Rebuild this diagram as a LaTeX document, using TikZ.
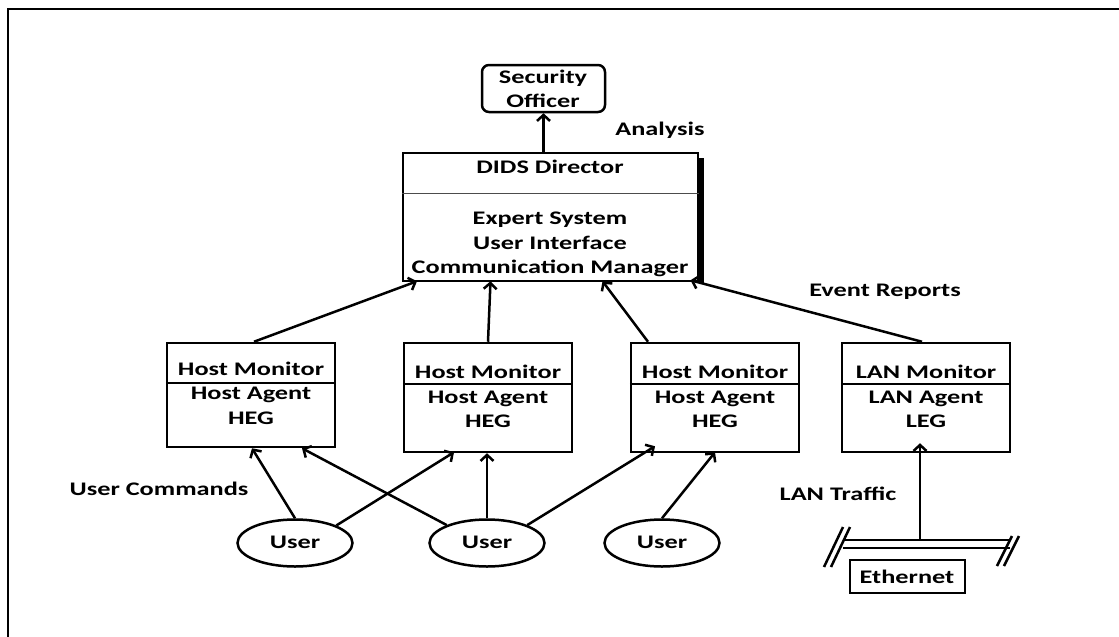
\documentclass[tikz,border=0pt]{standalone}
\usepackage{fontspec}
\setmainfont{Carlito}[FakeStretch=1.37]
\usetikzlibrary{arrows.meta,shapes.geometric}
\begin{document}
\begin{tikzpicture}[x=1pt,y=-1pt,
  every node/.style={font=\fontsize{19.2}{24.5}\selectfont\bfseries, inner sep=0pt},
  boxshape/.style={draw, line width=2.5pt, minimum width=168pt, minimum height=104pt},
  usershape/.style={draw, ellipse, line width=2.5pt, minimum width=115pt, minimum height=47pt},
  txt/.style={anchor=base},
  conn/.style={line width=2.5pt, -{Straight Barb[length=6pt,width=13pt,line width=2.5pt]}},
  divider/.style={line width=2.5pt}
]
\useasboundingbox (0,0) rectangle (1119,637);
\fill[white] (0,0) rectangle (1119,637);
% frame
\draw[line width=1.6pt] (1119,9) -- (8,9) -- (8,637);

% Security officer
\node[draw, rounded corners=7pt, line width=2.5pt, minimum width=123pt, minimum height=47pt] (sec) at (543.5,88.5) {};
\node[txt] (secA) at (543,83) {Security};
\node[txt] (secB) at (543,107) {Officer};
\node[txt] (ana) at (660,135) {Analysis};

% DIDS director
\draw[line width=5pt] (701,158) -- (701,284);
\node[draw, line width=2.5pt, fill=white, minimum width=295pt, minimum height=128pt] (dids) at (550.5,217) {};
\draw[line width=1pt, black!70] (dids.west |- 0,193) -- (dids.east |- 0,193);
\node[txt] (d1) at (550,173) {DIDS Director};
\node[txt] (d2) at (550,224) {Expert System};
\node[txt] (d3) at (550,249) {User Interface};
\node[txt] (d4) at (550,273) {Communication Manager};

% Host monitors
\node[boxshape] (b1) at (251,395) {};
\draw[divider] (b1.west |- 0,383) -- (b1.east |- 0,383);
\node[txt] at (251,375) {Host Monitor};
\node[txt] at (251,399) {Host Agent};
\node[txt] at (251,424) {HEG};

\node[boxshape, minimum height=109pt] (b2) at (488,397.5) {};
\draw[divider] (b2.west |- 0,384) -- (b2.east |- 0,384);
\node[txt] at (488,378) {Host Monitor};
\node[txt] at (488,403) {Host Agent};
\node[txt] at (488,427) {HEG};

\node[boxshape, minimum height=109pt] (b3) at (715,397.5) {};
\draw[divider] (b3.west |- 0,384) -- (b3.east |- 0,384);
\node[txt] at (715,378) {Host Monitor};
\node[txt] at (715,403) {Host Agent};
\node[txt] at (715,427) {HEG};

\node[boxshape, minimum height=109pt] (lan) at (926,397.5) {};
\draw[divider] (lan.west |- 0,384) -- (lan.east |- 0,384);
\node[txt] at (926,378) {LAN Monitor};
\node[txt] at (926,403) {LAN Agent};
\node[txt] at (926,427) {LEG};

\node[txt] (ev) at (885,296) {Event Reports};
\node[txt] (uc) at (159,495) {User Commands};
\node[txt] (lt) at (838,500) {LAN Traffic};

% users
\node[usershape] (u1) at (295,543) {};
\node[txt] at (295,548) {User};
\node[usershape] (u2) at (487,543) {};
\node[txt] at (487,548) {User};
\node[usershape] (u3) at (662,543) {};
\node[txt] at (662,548) {User};

% ethernet
\coordinate (bus) at (920,540);
\draw[line width=2.5pt] (843,540) -- (1010,540);
\draw[line width=2.5pt] (843,548) -- (1010,548);
\draw[line width=2.5pt] (824,567) -- (843,527);
\draw[line width=2.5pt] (831,567) -- (850,527);
\draw[line width=2.5pt] (997,566) -- (1012,536);
\draw[line width=2.5pt] (1004,566) -- (1019,536);
\node[draw, line width=2.5pt, minimum width=115pt, minimum height=33pt] (eth) at (907.5,576.5) {};
\node[txt] at (907,583) {Ethernet};

% connectors
\draw[conn] ([xshift=-7pt]dids.north) -- (sec.south);
\draw[conn] ([xshift=3pt]b1.north) -- ([xshift=-133.5pt,yshift=1pt]dids.south);
\draw[conn] (b2.north) -- ([xshift=-60pt,yshift=1pt]dids.south);
\draw[conn] ([xshift=-67pt]b3.north) -- ([xshift=52pt,yshift=1pt]dids.south);
\draw[conn] ([xshift=-4pt]lan.north) -- ([xshift=140pt,yshift=2pt]dids.south);

\draw[conn] (u1.north) -- ([xshift=1pt]b1.south);
\draw[conn] (u1.23) -- ([xshift=-34pt,yshift=1pt]b2.south);
\draw[conn] (u2.156) -- ([xshift=51pt]b1.south);
\draw[conn] (u2.north) -- ([xshift=-1pt]b2.south);
\draw[conn] (u2.24) -- ([xshift=-60pt,yshift=7pt]b3.south);
\draw[conn] (u3.north) -- ([yshift=1pt]b3.south);
\draw[conn] (bus) -- ([xshift=-6pt,yshift=10pt]lan.south);
\end{tikzpicture}
\end{document}
